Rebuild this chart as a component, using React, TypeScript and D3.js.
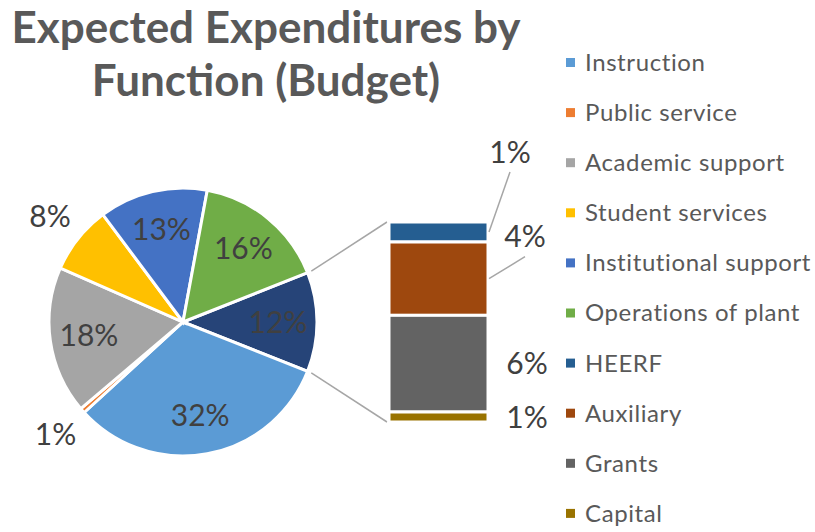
import React from "react";
import * as d3 from "d3";

// pie slices (percent of total budget)
const pieCategories = ["Instruction", "Public service", "Academic support", "Student services", "Institutional support", "Operations of plant"];
const pieValues = [32.2, 0.6, 17.8, 8.2, 13.1, 16.1];
const pieColors = ["#5B9BD5", "#ED7D31", "#A5A5A5", "#FFC000", "#4472C4", "#70AD47"];

// secondary bar (the "other" slice broken out)
const barCategories = ["HEERF", "Auxiliary", "Grants", "Capital"];
const barValues = [1.2, 4.4, 5.8, 0.6];
const barColors = ["#255E91", "#9E480E", "#636363", "#997300"];
const otherColor = "#264478";

const titleLines = ["Expected Expenditures by", "Function (Budget)"];

const W = 815;
const H = 532;
const FONT = "Lato, 'Open Sans', sans-serif";

export default function App() {
  const cx = 183, cy = 322, R = 134;
  const otherTotal = d3.sum(barValues);
  const total = d3.sum(pieValues) + otherTotal;

  const rows = [{ name: "Other", value: otherTotal, color: otherColor }].concat(
    pieCategories.map((c, i) => ({ name: c, value: pieValues[i], color: pieColors[i] }))
  );

  // other slice centred on 3 o'clock, like Excel's bar-of-pie
  const start = Math.PI / 2 - (otherTotal / total) * Math.PI;
  const pie = d3.pie<any>().sort(null).value(d => d.value).startAngle(start).endAngle(start + 2 * Math.PI);
  const arcs = pie(rows);

  const arc = d3.arc<any>().innerRadius(0).outerRadius(R);
  const arcIn = d3.arc<any>().innerRadius(95).outerRadius(95);
  const arcOut = d3.arc<any>().innerRadius(170).outerRadius(170);

  // bar
  const barX = 389, barW = 99;
  const y = d3.scaleLinear().domain([0, otherTotal]).range([222, 422]);
  const cum = d3.cumsum(barValues);
  const labelShift: Record<string, [number, number]> = {
    HEERF: [22, -80],
    Auxiliary: [37, -42],
    Grants: [39, 0],
    Capital: [39, 0],
  };

  const otherArc = arcs[0];
  const edge = (a: number) => [cx + (R + 4) * Math.sin(a), cy - (R + 4) * Math.cos(a)];
  const p1 = edge(otherArc.startAngle);
  const p2 = edge(otherArc.endAngle);

  const legendNames = pieCategories.concat(barCategories);
  const legendColors = pieColors.concat(barColors);

  return (
    <svg width={W} height={H} style={{ position: "absolute", left: 0, top: 0, background: "#fff" }} fontFamily={FONT}>
      {/* title */}
      <g fill="#595959" fontWeight="bold" fontSize={44} textAnchor="middle">
        {titleLines.map((t, i) => (
          <text key={t} x={266} y={43 + i * 53}>{t}</text>
        ))}
      </g>

      {/* connector lines */}
      <line x1={p1[0]} y1={p1[1]} x2={barX - 2} y2={y(0)} stroke="#A6A6A6" strokeWidth={1.5} />
      <line x1={p2[0]} y1={p2[1]} x2={barX - 2} y2={y(otherTotal)} stroke="#A6A6A6" strokeWidth={1.5} />

      {/* pie */}
      <g transform={`translate(${cx},${cy})`}>
        {arcs.map(d => (
          <path key={d.data.name} d={arc(d) as string} fill={d.data.color} stroke="#fff" strokeWidth={3} />
        ))}
        {arcs.map(d => {
          const pct = Math.round((d.data.value / total) * 100);
          const [lx, ly] = pct < 10 ? arcOut.centroid(d) : arcIn.centroid(d);
          return (
            <text key={d.data.name} x={lx} y={ly} dy="0.35em" textAnchor="middle" fontSize={30} fill="#404040">
              {pct + "%"}
            </text>
          );
        })}
      </g>

      {/* bar */}
      {barValues.map((v, i) => {
        const y0 = y(cum[i] - v);
        const y1 = y(cum[i]);
        const mid = (y0 + y1) / 2;
        const [dx, dy] = labelShift[barCategories[i]];
        const lx = barX + barW + dx;
        const ly = mid + dy;
        return (
          <g key={barCategories[i]}>
            <rect x={barX} y={y0} width={barW} height={y1 - y0} fill={barColors[i]} stroke="#fff" strokeWidth={3} />
            {dy !== 0 && (
              <line x1={barX + barW + 1} y1={mid} x2={lx} y2={ly + 20} stroke="#A6A6A6" strokeWidth={1.5} />
            )}
            <text x={lx} y={ly} dy="0.35em" textAnchor="middle" fontSize={30} fill="#404040">
              {Math.round((v / total) * 100) + "%"}
            </text>
          </g>
        );
      })}

      {/* legend */}
      <g fontSize={24} fill="#595959" letterSpacing={0.6}>
        {legendNames.map((n, i) => (
          <g key={n} transform={`translate(566,${62.5 + i * 50.1})`}>
            <rect x={0} y={-4.5} width={9} height={9} fill={legendColors[i]} />
            <text x={19} y={0} dy="0.35em">{n}</text>
          </g>
        ))}
      </g>
    </svg>
  );
}
